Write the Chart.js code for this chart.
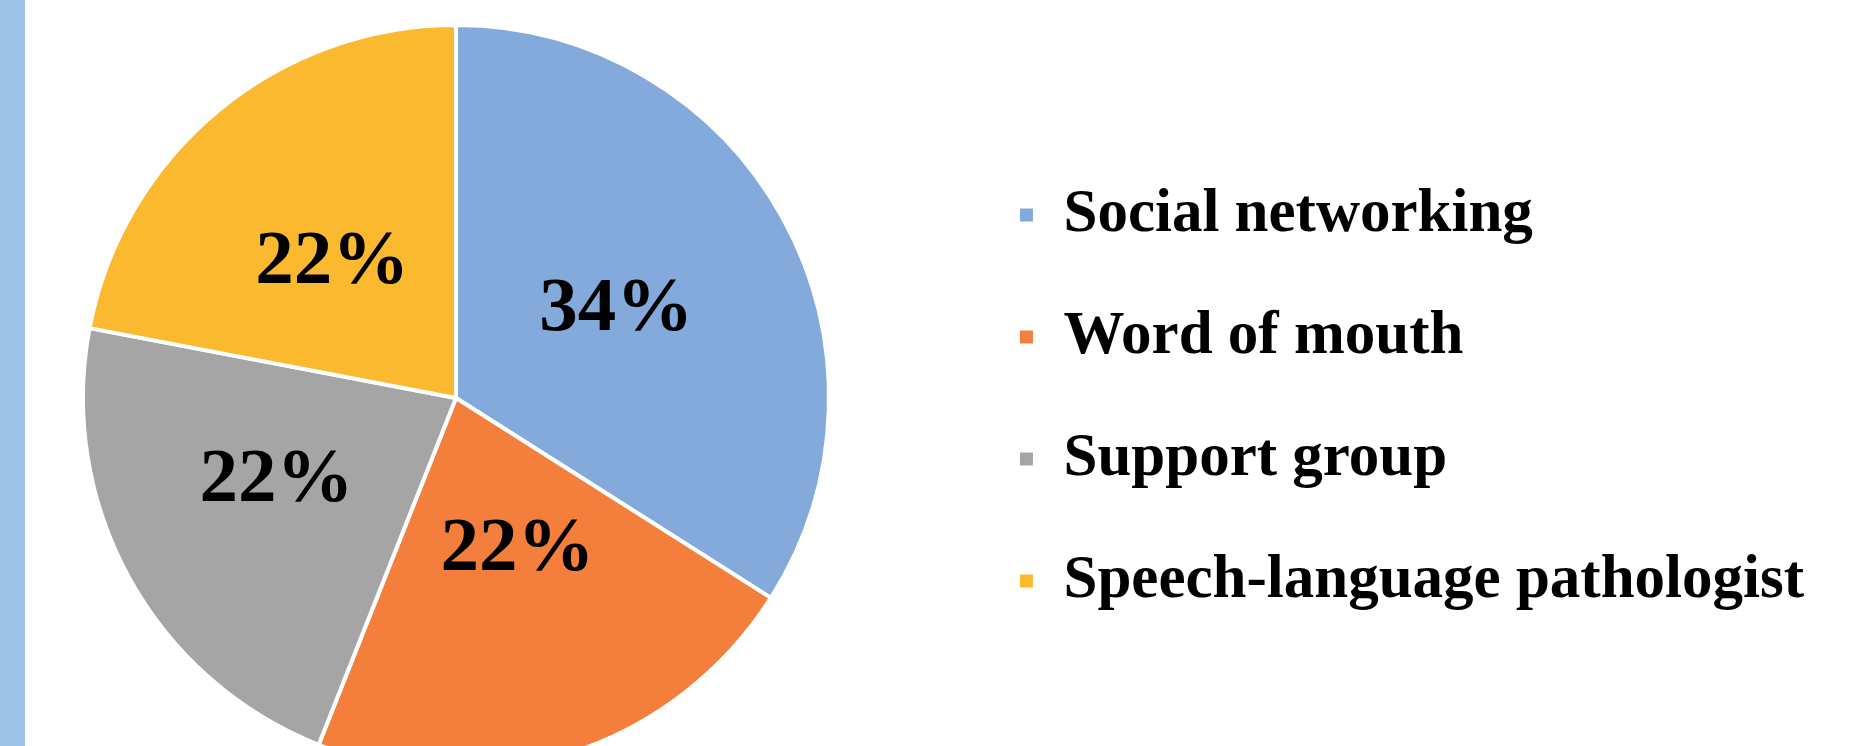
<!DOCTYPE html>
<html>
<head>
<meta charset="utf-8">
<script src="https://cdn.jsdelivr.net/npm/chart.js@4/dist/chart.umd.min.js"></script>
<style>
  html, body { margin: 0; padding: 0; background: #fff; overflow: hidden; }
  #wrap { position: relative; width: 1859px; height: 746px; overflow: hidden; }
  #band { position: absolute; left: 0; top: 0; width: 25px; height: 746px; background: #9dc3e6; z-index: 2; }
  /* canvas pushed a bit off the left edge so the pie sits where it does in the slide */
  #chart0 { position: absolute; left: -47px; top: 0; }
</style>
</head>
<body>
<div id="wrap">
  <div id="band"></div>
  <canvas id="chart0" width="1906" height="746"></canvas>
</div>
<script>
const sources = ["Social networking", "Word of mouth", "Support group", "Speech-language pathologist"];
const shares = [34, 22, 22, 22];
const sliceColors = ["#84aadb", "#f47f3d", "#a5a5a5", "#fbb92f"];

// where each % label sits: share of the radius, and a small turn in degrees
const labelDepth = [0.49, 0.44, 0.53, 0.49];
const labelTurn = [0, -4, 4, -3];

const pctLabels = {
  id: "pctLabels",
  afterDatasetsDraw(chart) {
    const ctx = chart.ctx;
    const meta = chart.getDatasetMeta(0);
    ctx.save();
    ctx.font = "bold 77px 'Liberation Serif', 'Times New Roman', serif";
    ctx.fillStyle = "#000";
    ctx.textAlign = "center";
    ctx.textBaseline = "middle";
    meta.data.forEach((arc, i) => {
      const p = arc.getProps(["x", "y", "startAngle", "endAngle", "outerRadius"], true);
      const mid = (p.startAngle + p.endAngle) / 2 + labelTurn[i] * Math.PI / 180;
      const r = p.outerRadius * labelDepth[i];
      ctx.fillText(shares[i] + "%", p.x + Math.cos(mid) * r, p.y + Math.sin(mid) * r);
    });
    ctx.restore();
  }
};

const ctx = document.getElementById("chart0").getContext("2d");
const myChart = new Chart(ctx, {
  type: "pie",
  data: {
    labels: sources,
    datasets: [{
      data: shares,
      backgroundColor: sliceColors,
      borderColor: "#ffffff",
      borderWidth: 4,
      radius: 373,
    }],
  },
  options: {
    responsive: false,
    animation: false,
    layout: { padding: { left: 0, top: 50, right: 45, bottom: 0 } },
    plugins: {
      tooltip: { enabled: false },
      legend: {
        position: "right",
        labels: {
          boxWidth: 13,
          boxHeight: 13,
          padding: 61,
          color: "#000",
          font: { family: "'Liberation Serif', 'Times New Roman', serif", size: 61, weight: "bold" },
          generateLabels: (chart) =>
            Chart.overrides.pie.plugins.legend.labels.generateLabels(chart).map((l) => ({ ...l, lineWidth: 0 })),
        },
      },
    },
  },
  plugins: [pctLabels],
});
</script>
</body>
</html>
